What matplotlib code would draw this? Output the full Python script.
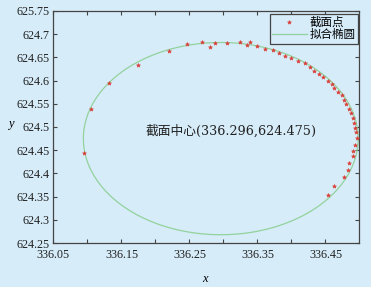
import numpy as np
import matplotlib
matplotlib.use('Agg')
from matplotlib import pyplot as plt

# measured section points
pts_x = [336.095, 336.105, 336.132, 336.175, 336.220, 336.246, 336.269, 336.280, 336.287,
         336.305, 336.324, 336.335, 336.339, 336.350, 336.361, 336.373, 336.381, 336.390,
         336.400, 336.409, 336.420, 336.427, 336.433, 336.440, 336.446, 336.454, 336.459,
         336.463, 336.469, 336.474, 336.477, 336.480, 336.484, 336.488, 336.490, 336.492,
         336.493, 336.495, 336.496, 336.493, 336.491, 336.490, 336.485, 336.483, 336.477,
         336.462, 336.454]
pts_y = [624.443, 624.538, 624.594, 624.633, 624.663, 624.678, 624.682, 624.673, 624.681,
         624.681, 624.682, 624.677, 624.682, 624.675, 624.669, 624.665, 624.659, 624.653,
         624.648, 624.642, 624.637, 624.629, 624.621, 624.614, 624.607, 624.600, 624.592,
         624.584, 624.576, 624.568, 624.559, 624.549, 624.539, 624.530, 624.519, 624.509,
         624.497, 624.489, 624.476, 624.462, 624.449, 624.438, 624.422, 624.408, 624.392,
         624.372, 624.354]

# fitted ellipse
center = (336.296, 624.475)
semi_a = 0.202
semi_b = 0.207

xticks = [336.05, 336.10, 336.15, 336.20, 336.25, 336.30, 336.35, 336.40, 336.45]
xticklabels = ['336.05', '', '336.15', '', '336.25', '', '336.35', '', '336.45']
yticks = [624.25, 624.30, 624.35, 624.40, 624.45, 624.50, 624.55, 624.60, 624.65, 624.70, 624.75]
yticklabels = ['624.25', '624.3', '624.35', '624.4', '624.45', '624.5', '624.55', '624.6',
               '624.65', '624.7', '625.75']

bg = '#d6ecf9'
serif = ['Liberation Serif', 'Noto Sans CJK SC']
wide = ['DejaVu Serif', 'Noto Sans CJK SC']

fig = plt.figure(figsize=(3.71, 2.87), dpi=100, facecolor=bg)
ax = fig.add_axes([0.144, 0.153, 0.825, 0.809], facecolor=bg)

t = np.linspace(0, 2 * np.pi, 400)
ex = center[0] + semi_a * np.cos(t)
ey = center[1] + semi_b * np.sin(t)

ax.plot(pts_x, pts_y, linestyle='none', marker='*', markersize=3, markeredgewidth=0.4,
        color='#d9403a', label='截面点', zorder=3)
ax.plot(ex, ey, color='#93d29c', linewidth=0.9, label='拟合椭圆', zorder=2)

ax.set_xlim(336.05, 336.5)
ax.set_ylim(624.25, 624.75)
ax.set_xticks(xticks)
ax.set_xticklabels(xticklabels, family=serif, fontsize=8.7, color='#222222')
ax.set_yticks(yticks)
ax.set_yticklabels(yticklabels, family=serif, fontsize=8.7, color='#222222')
ax.tick_params(direction='in', length=3, width=0.8, top=True, right=True, color='#444444')
ax.tick_params(axis='x', pad=4)
ax.tick_params(axis='y', pad=3)
for s in ax.spines.values():
    s.set_color('#444444')
    s.set_linewidth(0.9)

ax.set_xlabel('x', family=serif, style='italic', fontsize=9)
ax.xaxis.set_label_coords(0.496, -0.13)
ax.set_ylabel('y', family=serif, style='italic', fontsize=9, rotation=0)
ax.yaxis.set_label_coords(-0.14, 0.485)

ax.text(336.186, 624.49, '截面中心(336.296,624.475)', family=wide, fontsize=9.2,
        color='#222222', va='center', ha='left')

leg = ax.legend(loc='upper right', bbox_to_anchor=(1.0, 0.99), prop={'family': serif, 'size': 8.3},
                frameon=True, fancybox=False, borderpad=0.2, labelspacing=0.05,
                handlelength=3.0, handletextpad=0.3, borderaxespad=0.1)
leg.get_frame().set_facecolor(bg)
leg.get_frame().set_edgecolor('#444444')
leg.get_frame().set_linewidth(0.9)
leg.get_frame().set_alpha(1)

plt.savefig('out.png', dpi=100, facecolor=bg)
